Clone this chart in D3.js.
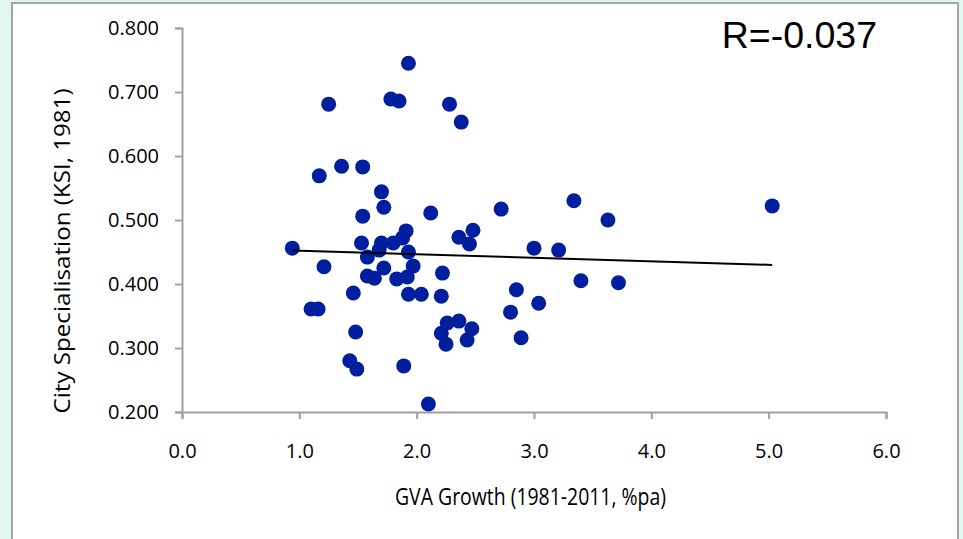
<!DOCTYPE html>
<html>
<head>
<meta charset="utf-8">
<script src="https://cdn.jsdelivr.net/npm/d3@7"></script>
<style>
  html, body { margin: 0; padding: 0; background: #e2f5f0; }
  #chart { width: 963px; height: 539px; }
  text { font-family: "Open Sans", sans-serif; fill: #000; }
</style>
</head>
<body>
<div id="chart"></div>
<script>
// GVA growth (x) vs city specialisation KSI (y)
const gvaGrowth = [0.94, 1.25, 1.17, 1.36, 1.54, 1.78, 1.85, 1.93, 2.28, 2.38,
  1.70, 1.72, 1.54, 2.12, 1.53, 1.58, 1.70, 1.80, 1.91, 1.88,
  1.93, 1.97, 1.68, 1.21, 1.58, 1.64, 1.72, 1.83, 1.92, 1.93,
  2.04, 2.21, 2.22, 1.46, 1.10, 1.16, 1.48, 1.43, 1.49, 1.89,
  2.10, 2.21, 2.25, 2.26, 2.36, 2.43, 2.47, 2.36, 2.45, 2.48,
  2.72, 3.00, 3.21, 3.34, 3.63, 2.85, 2.80, 3.04, 2.89, 3.40,
  3.72, 5.03];
const ksi = [0.456, 0.681, 0.569, 0.584, 0.583, 0.689, 0.686, 0.745, 0.681, 0.653,
  0.544, 0.520, 0.506, 0.511, 0.464, 0.442, 0.464, 0.464, 0.483, 0.472,
  0.450, 0.428, 0.453, 0.427, 0.4125, 0.409, 0.425, 0.408, 0.411, 0.384,
  0.384, 0.381, 0.417, 0.386, 0.361, 0.361, 0.325, 0.280, 0.267, 0.272,
  0.2125, 0.323, 0.306, 0.339, 0.342, 0.3125, 0.330, 0.473, 0.4625, 0.484,
  0.517, 0.456, 0.453, 0.530, 0.500, 0.391, 0.356, 0.370, 0.316, 0.405,
  0.402, 0.522];
const xTicks = [0, 1, 2, 3, 4, 5, 6];
const yTicks = [0.2, 0.3, 0.4, 0.5, 0.6, 0.7, 0.8];
const rLabel = "R=-0.037";

const W = 963, H = 539;
const m = {left: 182, right: 77, top: 28, bottom: 127};

const svg = d3.select("#chart").append("svg")
  .attr("width", W).attr("height", H);

// white panel with grey frame
svg.append("rect")
  .attr("x", 12).attr("y", 3)
  .attr("width", 946).attr("height", H + 10)
  .attr("fill", "#fff").attr("stroke", "#a6a6a6").attr("stroke-width", 2);

const x = d3.scaleLinear().domain([0, 6]).range([m.left, W - m.right]);
const y = d3.scaleLinear().domain([0.2, 0.8]).range([H - m.bottom, m.top]);

const xAxis = svg.append("g")
  .attr("transform", `translate(0,${y(0.2)})`)
  .call(d3.axisBottom(x).tickValues(xTicks).tickFormat(d3.format(".1f")).tickSize(7).tickSizeOuter(7).tickPadding(25));
const yAxis = svg.append("g")
  .attr("transform", `translate(${x(0)},0)`)
  .call(d3.axisLeft(y).tickValues(yTicks).tickFormat(d3.format(".3f")).tickSize(7).tickSizeOuter(7).tickPadding(16));

[xAxis, yAxis].forEach(g => {
  g.selectAll("path, line").attr("stroke", "#a0a0a0").attr("stroke-width", 2);
  g.selectAll("text").style("font-family", "'Open Sans', sans-serif").attr("font-size", 20).attr("fill", "#000");
});

const pts = gvaGrowth.map((v, i) => ({gx: v, k: ksi[i]}));

svg.append("g").selectAll("circle")
  .data(pts).join("circle")
  .attr("cx", d => x(d.gx)).attr("cy", d => y(d.k))
  .attr("r", 7.5)
  .attr("fill", "#001f9e");

// linear trend (least squares)
const mx = d3.mean(gvaGrowth), my = d3.mean(ksi);
const slope = d3.sum(pts, d => (d.gx - mx) * (d.k - my)) / d3.sum(pts, d => (d.gx - mx) ** 2);
const icpt = my - slope * mx;
const ext = d3.extent(gvaGrowth);
svg.append("path")
  .datum(ext)
  .attr("d", d3.line().x(d => x(d)).y(d => y(icpt + slope * d)))
  .attr("stroke", "#000").attr("stroke-width", 2).attr("fill", "none");

svg.append("text")
  .attr("x", 877).attr("y", 48)
  .attr("text-anchor", "end")
  .style("font-family", "'Liberation Sans', Arial, sans-serif")
  .attr("font-size", 37.5)
  .text(rLabel);

svg.append("text")
  .attr("x", 530.5).attr("y", 505)
  .attr("text-anchor", "middle")
  .attr("font-size", 23)
  .attr("textLength", 271).attr("lengthAdjust", "spacingAndGlyphs")
  .text("GVA Growth (1981-2011, %pa)");

svg.append("text")
  .attr("transform", "translate(70,251) rotate(-90)")
  .attr("text-anchor", "middle")
  .attr("font-size", 22)
  .attr("textLength", 325).attr("lengthAdjust", "spacingAndGlyphs")
  .text("City Specialisation (KSI, 1981)");
</script>
</body>
</html>
